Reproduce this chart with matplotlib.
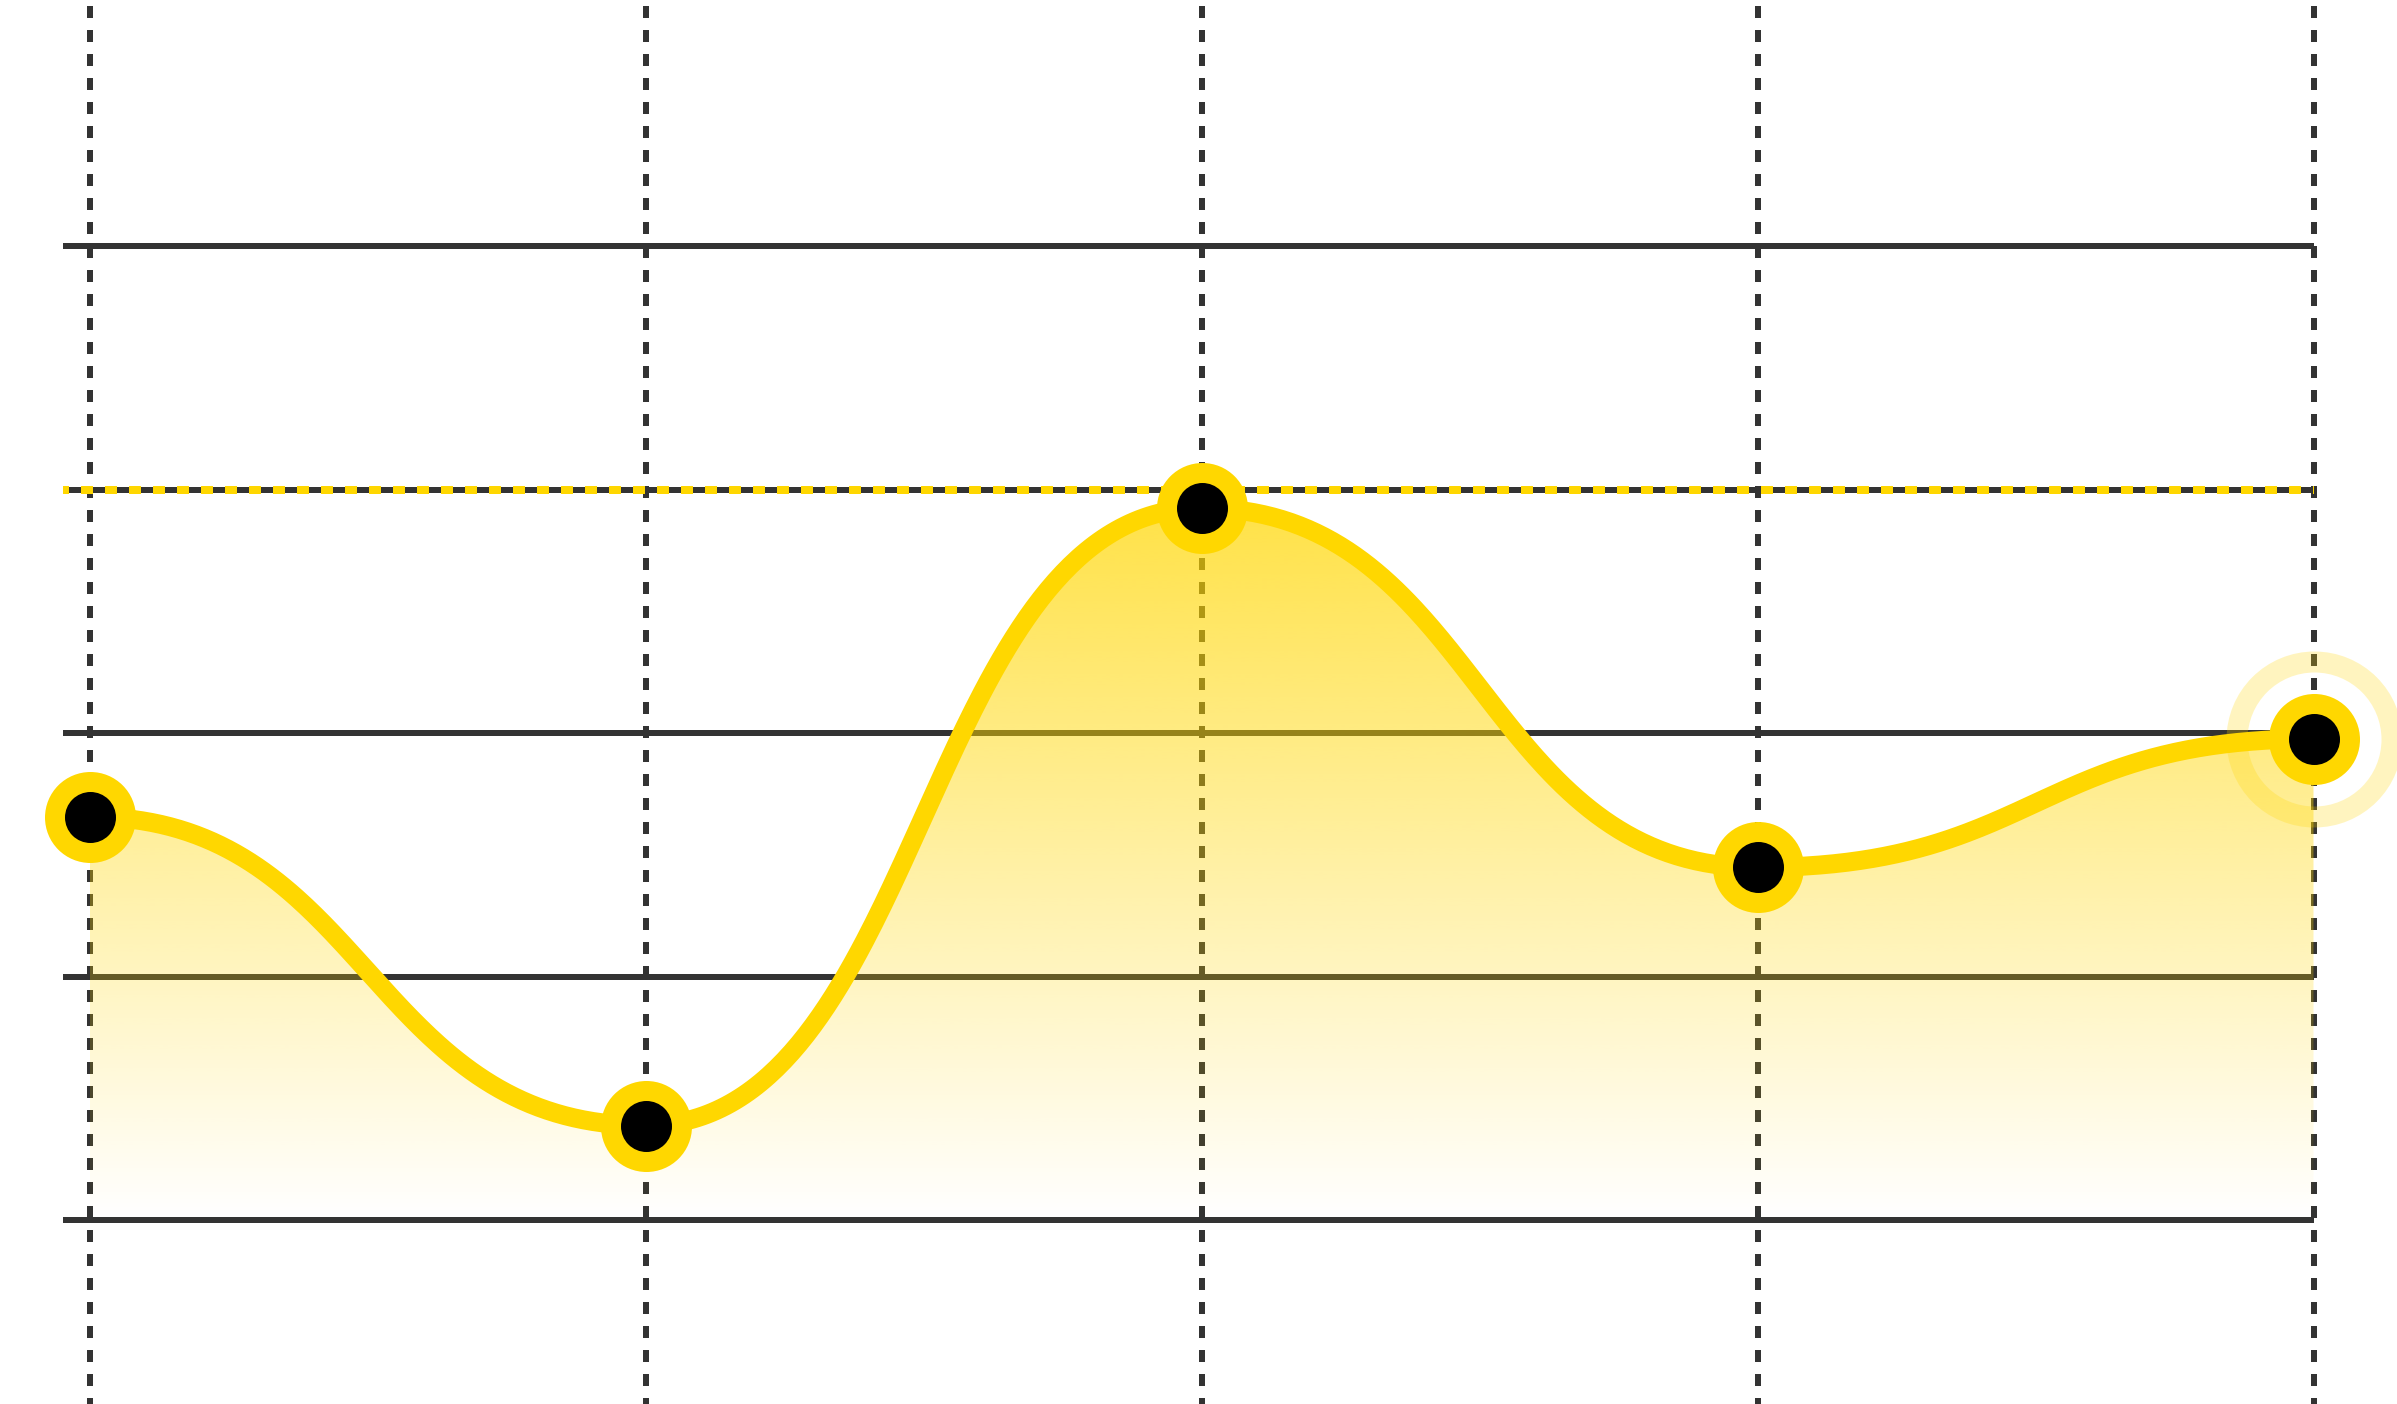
import numpy as np
import matplotlib
matplotlib.use('Agg')
import matplotlib.pyplot as plt

# data
x_vals = [0, 1, 2, 3, 4]
y_vals = [41.4, 9.7, 73.1, 36.2, 49.4]
grid_y = [0, 25, 50, 100]
goal_y = 75

YELLOW = '#FFD700'
DARK = '#333333'
PX = 0.72  # points per pixel at dpi 100

plt.rcParams['lines.scale_dashes'] = False


def bump_x(xs, ys, n=150):
    # cubic segments with flat tangents at every point (like d3.curveBumpX)
    px, py = [], []
    u = np.linspace(0, 1, n)
    for i in range(len(xs) - 1):
        xm = (xs[i] + xs[i + 1]) / 2
        P = np.array([[xs[i], ys[i]], [xm, ys[i]], [xm, ys[i + 1]], [xs[i + 1], ys[i + 1]]])
        b = ((1 - u) ** 3)[:, None] * P[0] + (3 * u * (1 - u) ** 2)[:, None] * P[1] \
            + (3 * u ** 2 * (1 - u))[:, None] * P[2] + (u ** 3)[:, None] * P[3]
        px.append(b[:, 0])
        py.append(b[:, 1])
    return np.concatenate(px), np.concatenate(py)


fig = plt.figure(figsize=(23.97, 14.04), dpi=100)
ax = fig.add_axes([0, 0, 1, 1])
ax.axis('off')

# pixel layout: x=0 at 89.5px, 556px per step; y=0 at 1220px, 243.5px per 25
xpx, ypx = 556.0, 243.5 / 25
ax.set_xlim(-89.5 / xpx, (2397 - 89.5) / xpx)
ax.set_ylim(-(1404 - 1220) / ypx, 1220 / ypx)

left = -26.5 / xpx
# solid horizontal gridlines
ax.hlines(grid_y, left, x_vals[-1], color=DARK, lw=6 * PX, zorder=1)
# vertical dashed gridlines
for xv in x_vals:
    ax.axvline(xv, color=DARK, lw=6 * PX, ls=(6 * PX, (12 * PX, 12 * PX)), zorder=1)
# goal line: yellow and dark dashes alternating
ax.plot([left, x_vals[-1]], [goal_y, goal_y], color=YELLOW, lw=8 * PX,
        ls=(6 * PX, (12 * PX, 12 * PX)), zorder=1.5, solid_capstyle='butt')
ax.plot([left, x_vals[-1]], [goal_y, goal_y], color=DARK, lw=6 * PX,
        ls=(18 * PX, (12 * PX, 12 * PX)), zorder=1.5)

cx, cy = bump_x(x_vals, y_vals)
ymax = cy.max()

# gradient area
poly = ax.fill_between(cx, 0, cy, facecolor='none', edgecolor='none')
grad = np.zeros((256, 2, 4))
grad[..., 0] = 1.0
grad[..., 1] = 215 / 255
grad[..., 2] = 0.0
grad[..., 3] = np.linspace(0.72, 0.0, 256)[:, None]
im = ax.imshow(grad, extent=[x_vals[0], x_vals[-1], 0, ymax], origin='upper',
               aspect='auto', interpolation='bilinear', zorder=2)
im.set_clip_path(poly.get_paths()[0], transform=ax.transData)

# curve
ax.plot(cx, cy, color=YELLOW, lw=19 * PX, zorder=3, solid_capstyle='round')

# halo on the last point
ax.plot(x_vals[-1], y_vals[-1], 'o', ms=155 * PX, mfc='none', mec=YELLOW,
        mew=21 * PX, alpha=0.25, zorder=4)

# markers
ax.plot(x_vals, y_vals, 'o', ms=91 * PX, color=YELLOW, mew=0, zorder=5)
ax.plot(x_vals, y_vals, 'o', ms=51 * PX, color='black', mew=0, zorder=6)

fig.savefig('out.png', dpi=100, facecolor='white')
